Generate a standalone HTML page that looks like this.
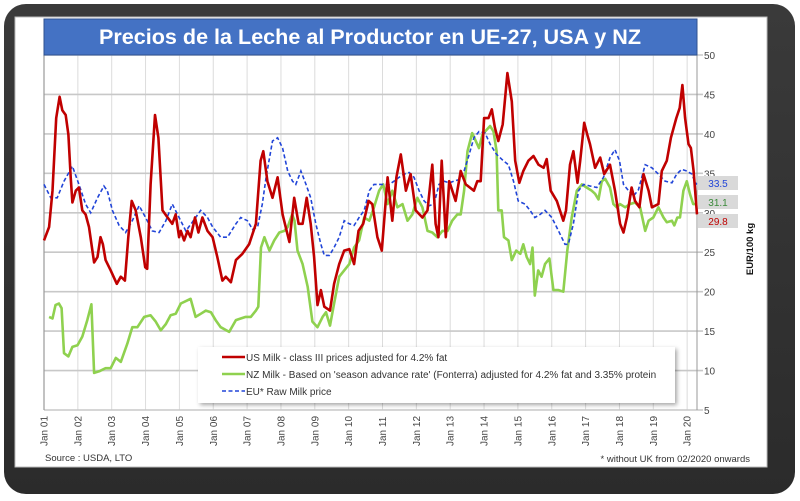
<!DOCTYPE html>
<html><head><meta charset="utf-8"><style>
html,body{margin:0;padding:0;background:#fff;}
svg{display:block;font-family:"Liberation Sans",sans-serif;}
</style></head><body>
<svg id="chart" width="800" height="501" viewBox="0 0 800 501" xmlns="http://www.w3.org/2000/svg">
<defs>
<linearGradient id="fr" x1="0" y1="0" x2="0" y2="1"><stop offset="0" stop-color="#3a3a3a"/><stop offset="1" stop-color="#2b2b2b"/></linearGradient>
<filter id="sh" x="-10%" y="-10%" width="130%" height="140%"><feDropShadow dx="2" dy="2" stdDeviation="2" flood-color="#000" flood-opacity="0.35"/></filter>
</defs>
<rect x="4" y="4" width="791" height="490" rx="22" fill="url(#fr)"/>
<rect x="15" y="17" width="752" height="450" fill="#fff" stroke="#bbb"/>
<g id="grid"></g>
<rect x="44" y="19" width="653" height="36" fill="#4472c4" stroke="#2f528f" stroke-width="1"/>
<text x="370" y="44" text-anchor="middle" fill="#fff" font-size="21" font-weight="bold" textLength="542" lengthAdjust="spacingAndGlyphs">Precios de la Leche al Productor en UE-27, USA y NZ</text>
<g id="series"></g>
<g>
<rect x="198" y="347" width="477" height="56" fill="#fff" filter="url(#sh)"/>
<line x1="222" y1="357" x2="245" y2="357" stroke="#c00000" stroke-width="2.5"/>
<text x="246" y="361" font-size="10" fill="#333">US Milk - class III prices adjusted for 4.2% fat</text>
<line x1="222" y1="374" x2="245" y2="374" stroke="#8fd14f" stroke-width="2.5"/>
<text x="246" y="378" font-size="10" fill="#333">NZ Milk - Based on 'season advance rate' (Fonterra) adjusted for 4.2% fat and 3.35% protein</text>
<line x1="222" y1="391" x2="245" y2="391" stroke="#2145d8" stroke-width="1.6" stroke-dasharray="4,2.5"/>
<text x="246" y="395" font-size="10" fill="#333">EU* Raw Milk price</text>
</g>
<text transform="translate(753,249) rotate(-90)" text-anchor="middle" font-size="9.5" font-weight="bold" fill="#111">EUR/100 kg</text>
<text x="45" y="461" font-size="9.5" fill="#333">Source : USDA, LTO</text>
<text x="750" y="462" text-anchor="end" font-size="9.5" fill="#333">* without UK from 02/2020 onwards</text>
<g id="endlabels"></g>
</svg>
<script>
const yTicks=[5,10,15,20,25,30,35,40,45,50];
const xYears=["01","02","03","04","05","06","07","08","09","10","11","12","13","14","15","16","17","18","19","20"];
const usT=[0,0.15,0.25,0.36,0.46,0.54,0.64,0.72,0.79,0.84,0.94,1.03,1.13,1.23,1.33,1.48,1.58,1.67,1.74,1.82,1.97,2.15,2.27,2.39,2.49,2.59,2.71,2.86,2.99,3.05,3.15,3.28,3.38,3.5,3.65,3.79,3.89,3.99,4.04,4.14,4.24,4.33,4.46,4.56,4.68,4.83,4.98,5.12,5.27,5.37,5.52,5.67,5.86,6.06,6.26,6.4,6.48,6.6,6.75,6.9,7.05,7.25,7.39,7.52,7.64,7.76,7.88,7.98,8.08,8.18,8.28,8.45,8.57,8.72,8.87,9.02,9.16,9.29,9.43,9.59,9.7,9.85,9.98,10.15,10.29,10.41,10.54,10.69,10.83,10.98,11.18,11.33,11.47,11.57,11.65,11.75,11.87,11.97,12.16,12.31,12.46,12.7,12.8,12.9,13.0,13.13,13.23,13.32,13.42,13.55,13.69,13.82,13.92,14.04,14.16,14.31,14.46,14.61,14.76,14.85,14.97,15.15,15.34,15.42,15.54,15.64,15.76,15.84,15.96,16.05,16.13,16.28,16.43,16.55,16.72,16.87,17.02,17.12,17.22,17.36,17.46,17.59,17.71,17.86,17.96,18.15,18.25,18.4,18.52,18.68,18.78,18.86,18.94,19.04,19.11,19.19,19.29];
const usV=[26.5,28.2,32.8,42,44.7,43,42.4,39.9,34.5,31.3,32.8,33.2,30.3,29.8,28.2,23.7,24.4,26.9,26,24,22.7,21,21.9,21.4,26.9,31.5,30.3,26.9,23.1,22.9,33.6,42.4,39.5,30.3,29.4,28.6,29.8,26.9,27.7,26.5,27.7,26.9,29.4,27.5,29.4,27.7,26.9,24.4,21.4,21.9,21.2,24,24.8,26,28.6,36.6,37.8,34,31.9,34.5,29.8,26.3,31.9,28.6,28.6,31.9,28.6,24.4,18.3,20.2,18.1,17.6,21,23.5,25.2,25.4,23.5,27.7,28.6,31.5,31.1,26.9,25.2,34.5,29,34.5,37.4,32.8,34.9,30.3,29.4,30.3,36.1,28.6,26.9,36.6,26.9,34,31.5,35.3,33.6,32.8,34,34,42,42,43.1,40.8,39.1,41.2,47.7,44.1,36.6,33.8,35.3,36.6,37.2,36.1,35.7,36.8,32.8,31.5,29,30.3,36.1,37.8,33.8,36.6,41.4,39.9,38.7,35.7,37,34.9,36.1,32.8,28.6,27.5,29.4,33.2,31.5,30.7,34.9,32.8,30.7,31.1,35.3,36.6,39.5,42,43.3,46.2,42,38.7,38.2,35.3,29.8];
const nzT=[0.15,0.25,0.34,0.44,0.52,0.59,0.72,0.84,0.99,1.13,1.28,1.4,1.48,1.63,1.82,1.97,2.12,2.27,2.46,2.61,2.76,2.96,3.15,3.3,3.45,3.6,3.74,3.89,4.04,4.24,4.33,4.48,4.63,4.78,4.93,5.07,5.22,5.47,5.67,5.81,5.96,6.11,6.26,6.33,6.41,6.51,6.66,6.8,6.95,7.1,7.2,7.33,7.4,7.49,7.64,7.79,7.93,8.08,8.23,8.33,8.45,8.57,8.72,8.87,9.02,9.16,9.31,9.46,9.61,9.75,9.9,10.02,10.15,10.29,10.44,10.59,10.74,10.88,11.03,11.18,11.33,11.47,11.62,11.77,11.92,12.06,12.21,12.31,12.41,12.51,12.65,12.85,12.95,13.03,13.18,13.28,13.37,13.42,13.52,13.59,13.72,13.82,13.95,14.07,14.16,14.26,14.36,14.43,14.5,14.6,14.7,14.8,14.93,15.05,15.2,15.34,15.46,15.59,15.74,15.89,16.03,16.18,16.28,16.38,16.48,16.58,16.72,16.82,16.92,17.02,17.17,17.31,17.46,17.61,17.76,17.86,18.0,18.15,18.3,18.4,18.55,18.62,18.71,18.79,18.89,18.99,19.08,19.18,19.28];
const nzV=[16.8,16.6,18.3,18.5,17.9,12.2,11.8,13,13.2,14.3,16.4,18.4,9.7,9.9,10.3,10.3,11.6,11.1,13.4,15.5,15.5,16.8,17,16.2,15.1,15.9,17,17.2,18.5,18.9,19.1,16.8,17.2,17.6,17.4,16.4,15.5,14.9,16.4,16.6,16.8,16.8,17.6,18.1,25.6,26.9,25.2,26.5,27.5,27.7,28.2,29.8,29,25.2,23.5,20.6,16.2,15.5,16.8,17.4,15.7,18.5,21.9,22.7,23.5,25.6,26.5,29.4,29,30.7,32.8,33.6,31.1,32.8,30.7,31.1,29,29.8,31.9,30.7,27.7,27.5,26.9,27.7,27.7,29,29.8,29.8,32.8,37.8,40.1,38.2,39.9,40.3,41,40.3,37.8,30.3,30.3,26.9,26.5,24,25.2,24.8,26,24.4,23.5,25.6,19.5,22.7,21.9,23.5,24.2,20.2,20.2,20,25.2,29.4,32.8,33.6,33.2,32.8,32.4,31.7,34,34.3,33.2,31.1,30.7,31.1,30.7,31.1,31.3,30.7,27.7,29,29.4,30.7,29.4,28.8,29,28.4,29.4,29.4,32.8,34,32.4,31.1,31.1];
const euT=[0,0.2,0.39,0.59,0.84,1.03,1.23,1.38,1.58,1.77,1.87,2.02,2.22,2.41,2.61,2.81,3.0,3.2,3.4,3.6,3.79,3.99,4.19,4.38,4.63,4.83,4.98,5.22,5.42,5.67,5.81,6.01,6.16,6.31,6.45,6.56,6.75,6.9,7.05,7.2,7.34,7.44,7.59,7.74,7.88,8.03,8.18,8.28,8.43,8.57,8.72,8.87,9.02,9.16,9.31,9.46,9.61,9.75,9.9,10.05,10.2,10.34,10.49,10.64,10.79,10.93,11.08,11.23,11.38,11.52,11.67,11.82,11.97,12.11,12.26,12.41,12.56,12.7,12.85,13.03,13.18,13.37,13.57,13.72,13.87,14.01,14.21,14.36,14.5,14.66,14.8,15.0,15.2,15.39,15.49,15.64,15.79,15.94,16.13,16.33,16.53,16.72,16.87,17.0,17.12,17.27,17.41,17.56,17.76,17.96,18.15,18.35,18.55,18.69,18.84,18.99,19.14,19.24,19.29];
const euV=[33.6,31.9,31.9,34,35.9,33.6,31.1,30,31.9,33.4,32.8,30.3,28.4,27.5,29,30.9,29.4,27.7,27.5,29,31.1,29.4,27.7,28.8,30.3,29.4,28.2,26.9,26.9,28.6,29.4,29,27.9,28.2,31.1,34.5,39.1,39.5,38.2,35.3,34,33.6,35.3,33.6,31.9,28.6,26,24.6,24.6,25.6,26.9,29,28.6,28.4,29.4,30.3,32.8,33.6,33.6,33.6,33.6,34,34.5,34.9,35.1,34.5,32.8,31.5,30.9,31.1,33.6,34,33.8,34,34.2,35.3,37.4,39.5,40.3,40.1,38.7,37.4,36.6,36.1,34,31.5,31.1,30.3,29.4,29.8,30.3,29.4,27.7,26,26,28.6,32.8,33.6,33.4,33.2,34.5,37,38,36.6,33.6,32.8,32.1,32.9,36.1,35.7,34.9,34,33.8,34.9,35.5,35.3,34.9,33.8,33.6];
const endVals=["33.5","31.1","29.8"];
const endColors=["#2145d8","#3a8a3a","#c00000"];

const NS="http://www.w3.org/2000/svg";
const X0=44,X1=697,YT=55,YB=410,PX=33.85;
function sx(t){return X0+t*PX;}
function sy(v){return YB-(v-5)*(YB-YT)/45;}
function mk(tag,attrs,parent){const e=document.createElementNS(NS,tag);for(const k in attrs)e.setAttribute(k,attrs[k]);parent.appendChild(e);return e;}
const grid=document.getElementById('grid');
const bg=mk('rect',{x:X0,y:YT,width:X1-X0,height:YB-YT,fill:'#fff'},grid);


xYears.forEach((yr,i)=>{
  const x=sx(i);
  const l=mk('line',{x1:x,y1:YT,x2:x,y2:YB,stroke:'#dcdcdc','stroke-width':1},grid);
  
  
  const t=mk('text',{transform:`translate(${x+3.5},446) rotate(-90)`,'font-size':'10',fill:'#444'},grid);
  t.textContent='Jan '+yr;
  
  
});
yTicks.forEach(v=>{
  const y=sy(v);
  const l=mk('line',{x1:X0,y1:y,x2:X1+6,y2:y,stroke:'#c8c8c8','stroke-width':1.6},grid);
  
  
  const t=mk('text',{x:704,y:y+4,'font-size':'10',fill:'#444'},grid);
  t.textContent=v;
  
  
});
const ax=mk('line',{x1:X0,y1:YT,x2:X0,y2:YB,stroke:'#999','stroke-width':1.2},grid);


const ax2=mk('line',{x1:X1,y1:YT,x2:X1,y2:YB,stroke:'#999','stroke-width':1},grid);


const series=document.getElementById('series');
function path(T,V){return T.map((t,i)=>(i?'L':'M')+sx(t).toFixed(1)+','+sy(V[i]).toFixed(1)).join('');}
const nz=mk('path',{d:path(nzT,nzV),fill:'none',stroke:'#8fd14f','stroke-width':2.6,'stroke-linejoin':'round'},series);


const eu=mk('path',{d:path(euT,euV),fill:'none',stroke:'#2145d8','stroke-width':1.6,'stroke-dasharray':'4,2.5'},series);


const us=mk('path',{d:path(usT,usV),fill:'none',stroke:'#c00000','stroke-width':2.6,'stroke-linejoin':'round'},series);


const el=document.getElementById('endlabels');
const boxY=[176,195,214];
endVals.forEach((v,i)=>{
  const r=mk('rect',{x:698,y:boxY[i],width:40,height:14,fill:'#d9d9d9'},el);
  
  
  const t=mk('text',{x:718,y:boxY[i]+11,'text-anchor':'middle','font-size':'10',fill:endColors[i]},el);
  t.textContent=v;
  
  
});
</script>
</body></html>
